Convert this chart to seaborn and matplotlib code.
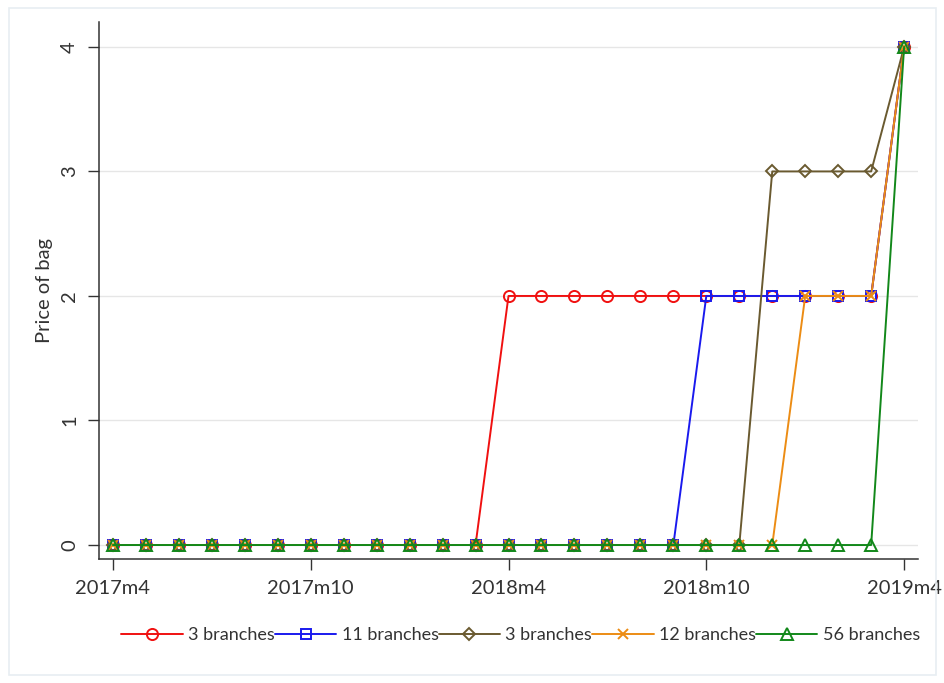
import matplotlib
matplotlib.use("Agg")
import matplotlib.pyplot as plt
import seaborn as sns
import pandas as pd
from matplotlib.patches import Rectangle

# monthly observations 2017m4 .. 2019m4
months = list(range(25))
tick_pos = [0, 6, 12, 18, 24]
tick_labels = ["2017m4", "2017m10", "2018m4", "2018m10", "2019m4"]

red_3 = [0] * 12 + [2] * 12 + [4]
blue_11 = [0] * 18 + [2] * 6 + [4]
brown_3 = [0] * 20 + [3] * 4 + [4]
orange_12 = [0] * 21 + [2] * 3 + [4]
green_56 = [0] * 24 + [4]

series = [
    ("3 branches", red_3, "#f01010", "o", 8),
    ("11 branches", blue_11, "#1a1aee", "s", 7),
    ("3 branches", brown_3, "#6a5a30", "D", 6.5),
    ("12 branches", orange_12, "#ec8c14", "x", 6.5),
    ("56 branches", green_56, "#12881a", "^", 8.5),
]

sns.set_style("white")
plt.rcParams["font.family"] = ["Lato", "DejaVu Sans"]

fig = plt.figure(figsize=(9.45, 6.83), dpi=100)
ax = fig.add_axes([0.1048, 0.1816, 0.8666, 0.7862])

for name, vals, col, mk, ms in series:
    df = pd.DataFrame({"month": months, "price": vals})
    sns.lineplot(data=df, x="month", y="price", ax=ax, color=col, marker=mk,
                 markersize=ms, markerfacecolor="none", markeredgecolor=col,
                 markeredgewidth=1.4, linewidth=1.4, label=name, legend=False)

ax.set_xlim(-0.42, 24.42)
ax.set_ylim(-0.112, 4.2)
ax.set_yticks([0, 1, 2, 3, 4])
ax.set_xticks(tick_pos)
ax.set_xticklabels(tick_labels)
ax.grid(axis="y", color="#e6e6e6", linewidth=1)
ax.set_axisbelow(True)
for s in ["top", "right"]:
    ax.spines[s].set_visible(False)
for s in ["left", "bottom"]:
    ax.spines[s].set_color("#333333")
    ax.spines[s].set_linewidth(1.1)
ax.tick_params(axis="both", direction="out", length=8, width=1, color="#333333",
               labelcolor="#333333", labelsize=14.5, left=True, bottom=True, pad=7)
for lbl in ax.get_yticklabels():
    lbl.set_rotation(90)
    lbl.set_va("center")
ax.set_xlabel("")
ax.set_ylabel("Price of bag", fontsize=14.5, color="#333333", labelpad=6)

handles, labels = ax.get_legend_handles_labels()
fig.legend(handles, labels, loc="center", bbox_to_anchor=(0.551, 0.07), ncol=5,
           frameon=False, fontsize=13, handlelength=3.4, handletextpad=0.3,
           columnspacing=0.0, labelcolor="#333333")

fig.patches.append(Rectangle((0.009, 0.012), 0.982, 0.976, transform=fig.transFigure,
                             fill=False, edgecolor="#e8eef2", linewidth=1.2))

fig.savefig("out.png", dpi=100)
